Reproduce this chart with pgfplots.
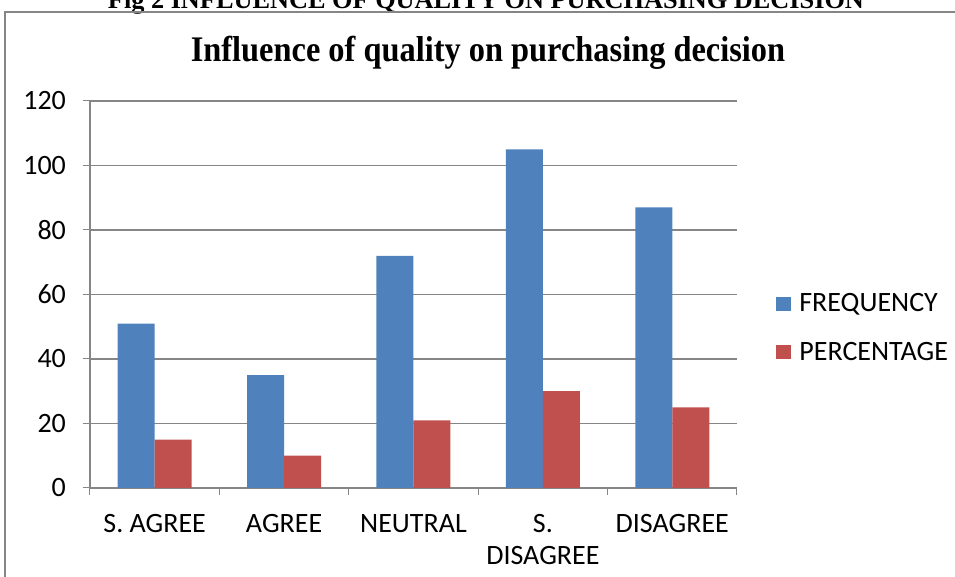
\documentclass[border=0pt]{standalone}
\usepackage{fontspec}
\setmainfont{Carlito}
\newfontfamily\serifbold{Liberation Serif}
\usepackage{pgfplots}
\pgfplotsset{compat=1.18}

\definecolor{freqblue}{HTML}{4F81BD}
\definecolor{pctred}{HTML}{C0504D}
\definecolor{gridgray}{HTML}{868686}

% category index, frequency, percentage
\pgfplotstableread{
idx freq pct
0   51   15
1   35   10
2   72   21
3   105  30
4   87   25
}\qualitydata

\begin{document}
\begin{tikzpicture}[x=1pt,y=1pt]
% axis box lower left sits at the origin
\useasboundingbox (-45,-44.5) rectangle (432.5,244);
\clip (-45,-44.5) rectangle (432.5,244);

% figure caption, cut by the page top
\node[anchor=base, inner sep=0pt] at (198,239.5)
  {\resizebox{378pt}{!}{\serifbold\bfseries Fig 2 INFLUENCE OF QUALITY ON PURCHASING DECISION}};
% chart frame
\draw[gridgray, line width=1pt] (-42.5,-50) -- (-42.5,238) -- (440,238);

% chart title
\node[anchor=base, inner sep=0pt] at (199,213)
  {\scalebox{0.9}[1]{\serifbold\bfseries\fontsize{18}{20}\selectfont Influence of quality on purchasing decision}};

\begin{axis}[
    scale only axis,
    width=323.5pt, height=193.5pt,
    xmin=-0.5, xmax=4.5,
    ymin=0, ymax=120,
    ytick={0,20,...,120},
    xtick={0,...,4},
    xticklabels={S. AGREE, AGREE, NEUTRAL, S.\\DISAGREE, DISAGREE},
    xtick style={draw=none},
    extra x ticks={-0.5,0.5,1.5,2.5,3.5,4.5},
    extra x tick labels={},
    extra x tick style={xtick style={draw=gridgray, line width=0.5pt}},
    tick align=outside,
    major tick length=3.5pt,
    ytick style={draw=gridgray, line width=0.5pt},
    axis x line*=bottom, axis y line*=left,
    axis line style={-, draw=gridgray, line width=1pt},
    ymajorgrids,
    grid style={draw=gridgray, line width=0.6pt},
    /pgf/number format/assume math mode=true,
    tick label style={font=\fontsize{14}{16}\selectfont},
    yticklabel style={anchor=east, xshift=-5pt},
    xticklabel style={align=center, yshift=-6pt, text depth=0pt},
    ybar=0pt,
    bar width=18.5pt,
    legend image code/.code={\fill[#1] (0pt,-3.5pt) rectangle (7.5pt,3.5pt); \path (9.5pt,0pt);},
    legend style={at={(1.051,0.413)}, anchor=west, draw=none, fill=none,
      font=\fontsize{14}{16}\selectfont, row sep=9.7pt,
      nodes={inner sep=2pt}},
    legend cell align=left,
]
\addplot[fill=freqblue, draw=none] table[x=idx, y=freq] {\qualitydata};
\addplot[fill=pctred, draw=none] table[x=idx, y=pct] {\qualitydata};
\legend{FREQUENCY, PERCENTAGE}
\end{axis}
\end{tikzpicture}
\end{document}
